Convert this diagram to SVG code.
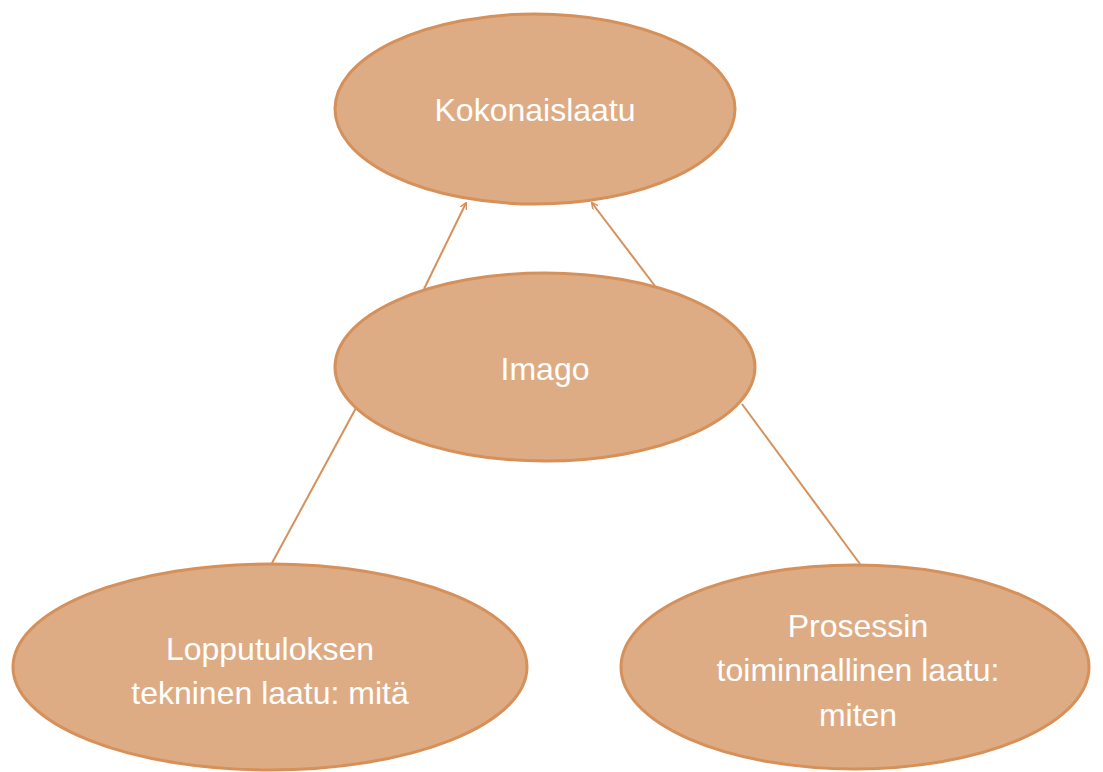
<svg xmlns="http://www.w3.org/2000/svg" width="1103" height="772" viewBox="0 0 1103 772">
<style>
.node ellipse{fill:#DEAC84;stroke:#D6905A;stroke-width:3}
.node text{fill:#FFFFFF;font-family:"Liberation Sans",Arial,sans-serif;font-size:32px;text-anchor:middle}
.conn line{stroke:#D6905A;stroke-width:2}
</style>
<defs>
<marker id="arr" viewBox="0 0 10 10" refX="9" refY="5" markerWidth="7" markerHeight="7" orient="auto" markerUnits="userSpaceOnUse">
<path d="M0,0 L10,5 L0,10" fill="none" stroke="#D6905A" stroke-width="2"/>
</marker>
</defs>
<rect width="1103" height="772" fill="#FFFFFF"/>
<g class="conn">
<line x1="424" y1="289" x2="466" y2="203" marker-end="url(#arr)"/>
<line x1="655" y1="286" x2="592" y2="203" marker-end="url(#arr)"/>
<line x1="272" y1="563" x2="356" y2="408"/>
<line x1="860" y1="564" x2="742" y2="404"/>
</g>
<g id="kokonaislaatu" class="node">
<ellipse cx="535" cy="109" rx="200" ry="95"/>
<text x="535" y="121">Kokonaislaatu</text>
</g>
<g id="imago" class="node">
<ellipse cx="545" cy="367" rx="210" ry="94"/>
<text x="545" y="380">Imago</text>
</g>
<g id="lopputulos" class="node">
<ellipse cx="270" cy="667" rx="257" ry="103"/>
<text x="270" y="660">Lopputuloksen</text>
<text x="270" y="704">tekninen laatu: mitä</text>
</g>
<g id="prosessi" class="node">
<ellipse cx="855" cy="667" rx="234" ry="102"/>
<text x="858" y="637">Prosessin</text>
<text x="858" y="681">toiminnallinen laatu:</text>
<text x="858" y="726">miten</text>
</g>
</svg>
